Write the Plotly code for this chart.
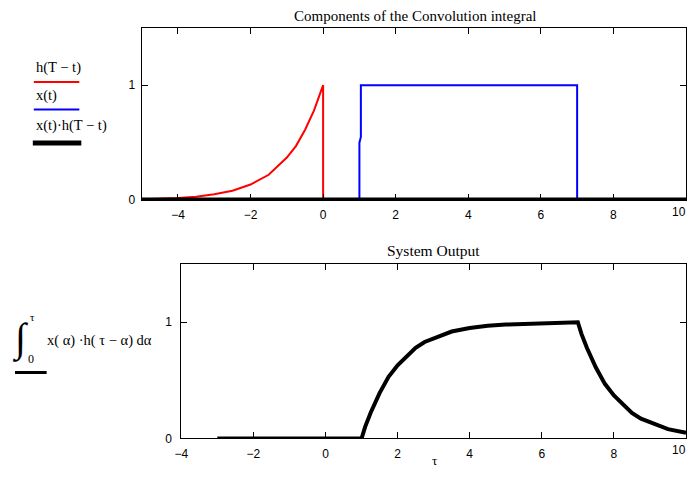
import plotly.graph_objects as go

# ---- data ----
# top panel: h(T - t)
h_t = [-5.0, -4.5, -4.0, -3.5, -3.0, -2.5, -2.0, -1.5, -1.0, -0.75, -0.5, -0.25, 0.0, 0.0, 10.0]
h_v = [0.007, 0.011, 0.018, 0.030, 0.050, 0.082, 0.135, 0.22, 0.37, 0.47, 0.61, 0.78, 1.0, 0.0, 0.0]
# top panel: x(t)
x_t = [-5.0, 1.0, 1.0, 1.04, 1.04, 7.0, 7.0, 10.0]
x_v = [0.0, 0.0, 0.5, 0.55, 1.0, 1.0, 0.0, 0.0]
# top panel: product x(t)*h(T - t)
p_t = [-5.0, 10.0]
p_v = [0.0, 0.0]
# bottom panel: system output
y_tau = [-3.0, 1.0, 1.1, 1.25, 1.5, 1.75, 2.0, 2.25, 2.5, 2.75, 3.0, 3.5, 4.0, 4.5, 5.0, 6.0, 7.0,
         7.1, 7.25, 7.5, 7.75, 8.0, 8.25, 8.5, 8.75, 9.0, 9.5, 10.0]
y_out = [0.0, 0.0, 0.10, 0.22, 0.39, 0.53, 0.63, 0.71, 0.78, 0.83, 0.86, 0.92, 0.95, 0.97, 0.98, 0.99, 1.0,
         0.90, 0.78, 0.61, 0.47, 0.37, 0.29, 0.22, 0.17, 0.14, 0.08, 0.05]

xtick_vals = [-4, -2, 0, 2, 4, 6, 8, 10]
xtick_text = ["−4", "−2", "0", "2", "4", "6", "8", "10"]
yticks = [0, 1]

OFF = 8  # default page body margin
W, H = 695 - 2 * OFF, 485 - 2 * OFF
def px(x): return (x - OFF) / W
def py(y): return 1 - (y - OFF) / H

fig = go.Figure()
fig.add_trace(go.Scatter(x=h_t, y=h_v, mode="lines", line=dict(color="#ff0000", width=2),
                         xaxis="x", yaxis="y", showlegend=False))
fig.add_trace(go.Scatter(x=x_t, y=x_v, mode="lines", line=dict(color="#0000ff", width=2),
                         xaxis="x", yaxis="y", showlegend=False))
fig.add_trace(go.Scatter(x=p_t, y=p_v, mode="lines", line=dict(color="#000000", width=5),
                         xaxis="x", yaxis="y", showlegend=False, cliponaxis=False))
fig.add_trace(go.Scatter(x=y_tau, y=y_out, mode="lines",
                         line=dict(color="#000000", width=4),
                         xaxis="x2", yaxis="y2", showlegend=False))

tickfont = dict(family="Liberation Sans, Arial, sans-serif", size=12, color="black")
axcommon = dict(showline=True, linecolor="black", linewidth=1, mirror="ticks",
                ticks="inside", ticklen=6, tickcolor="black", showgrid=False,
                zeroline=False, tickfont=tickfont)

# last tick label sits at the right edge; it is drawn right-aligned as text below
axis_text = xtick_text[:-1] + [""]

fig.update_layout(
    width=W, height=H,
    margin=dict(l=0, r=0, t=0, b=0),
    paper_bgcolor="white", plot_bgcolor="white",
    xaxis=dict(domain=[px(136), px(686)], range=[-5, 10], tickvals=xtick_vals,
               ticktext=axis_text, anchor="y", ticklabelstandoff=4, **axcommon),
    yaxis=dict(domain=[py(203), py(28)], range=[0, 1.5], tickvals=yticks,
               anchor="x", ticklabelstandoff=3, **axcommon),
    xaxis2=dict(domain=[px(176), px(686)], range=[-4, 10], tickvals=xtick_vals,
                ticktext=axis_text, anchor="y2", ticklabelstandoff=4, **axcommon),
    yaxis2=dict(domain=[py(445), py(268)], range=[0, 1.5], tickvals=yticks,
                anchor="x2", ticklabelstandoff=6, **axcommon),
)

# right-most tick label, kept inside the page
for ya in ("y", "y2"):
    fig.add_annotation(text=xtick_text[-1], x=1.0, xref="paper", y=0, yref=f"{ya} domain",
                       xanchor="right", yanchor="top", yshift=-4, showarrow=False,
                       borderpad=0, font=tickfont)

serif = "Liberation Serif, Times New Roman, serif"
def ann(text, x, y, size=12, xanchor="center", yanchor="middle"):
    fig.add_annotation(text=text, x=px(x), y=py(y), xref="paper", yref="paper",
                       showarrow=False, xanchor=xanchor, yanchor=yanchor,
                       font=dict(family=serif, size=size, color="black"))

ann("Components of the Convolution integral", 412, 16, size=15)
ann("System Output", 431, 254, size=15.5)
ann("τ", 432, 467, size=13)

# left legend (top)
ann("h(T − t)", 27, 68, size=14.5, xanchor="left")
ann("x(t)", 27, 97, size=14.5, xanchor="left")
ann("x(t)·h(T − t)", 27, 127, size=14.5, xanchor="left")
def hline(x0, x1, y, color, w):
    fig.add_shape(type="line", xref="paper", yref="paper", x0=px(x0), x1=px(x1),
                  y0=py(y), y1=py(y), line=dict(color=color, width=w))
hline(27, 73, 83, "#ff0000", 2)
hline(27, 73, 111, "#0000ff", 2)
hline(26, 75, 145, "#000000", 5)

# left legend (bottom)
ann("∫", 14, 343, size=40)
ann("τ", 21, 322, size=11, xanchor="left")
ann("0", 19, 364, size=12, xanchor="left")
ann("x( α) ·h( τ − α) dα", 38, 346, size=14.5, xanchor="left")
hline(8, 40, 378, "#000000", 3)

fig.write_html("out.html", config={"displayModeBar": False})
